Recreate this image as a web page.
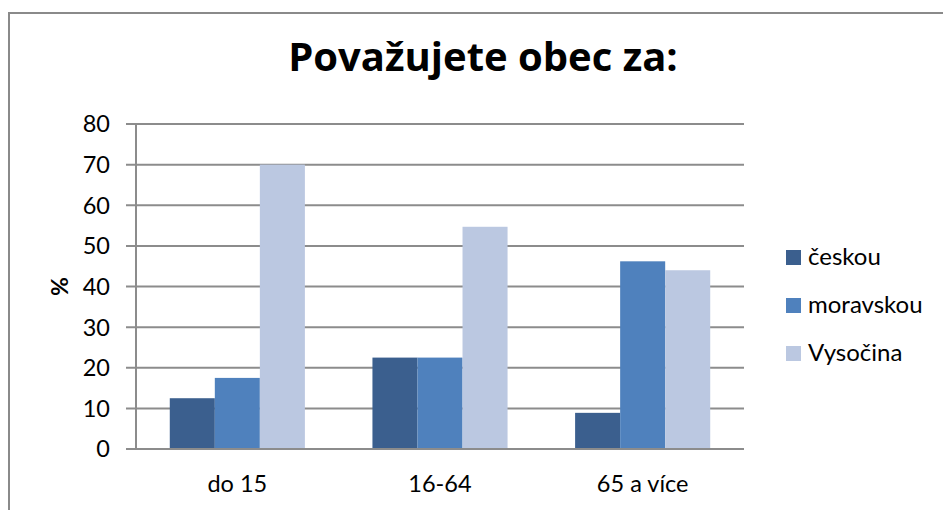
<!DOCTYPE html>
<html lang="cs">
  <head>
    <meta charset="UTF-8" />
    <title>Považujete obec za:</title>
    <script src="https://d3js.org/d3.v7.min.js"></script>
    <style>
      body {
        margin: 0;
        background: #fff;
        font-family: Lato, 'Noto Sans', sans-serif;
      }
      .grid line {
        stroke: #8c8c8c;
        stroke-width: 2px;
      }
    </style>
  </head>
  <body>
    <div id="chart"></div>
    <script>
      // data
      const categories = ['do 15', '16-64', '65 a více'];
      const seriesNames = ['českou', 'moravskou', 'Vysočina'];
      const ceskou = [12.5, 22.5, 8.9];
      const moravskou = [17.5, 22.5, 46.2];
      const vysocina = [70, 54.7, 44];
      const yTicks = [0, 10, 20, 30, 40, 50, 60, 70, 80];
      const colors = ['#3b5f8e', '#4f81bd', '#bbc8e1'];

      const width = 943;
      const height = 510;
      const margin = { top: 124, left: 136, right: 199, bottom: 61 };

      const series = [ceskou, moravskou, vysocina];
      const table = categories.map((c, i) => ({
        category: c,
        values: seriesNames.map((s, j) => ({ name: s, value: series[j][i], idx: j })),
      }));

      const svg = d3
        .select('#chart')
        .append('svg')
        .attr('width', width)
        .attr('height', height);

      // outer frame of the chart (cut off at right/bottom)
      svg
        .append('rect')
        .attr('x', 9)
        .attr('y', 13)
        .attr('width', 960)
        .attr('height', 520)
        .attr('fill', 'none')
        .attr('stroke', '#8a8a8a')
        .attr('stroke-width', 2);

      const x0 = d3
        .scaleBand()
        .domain(categories)
        .range([margin.left, width - margin.right])
        .paddingInner(0);

      // bars: gap width 150% of a bar => 3 bars + 1.5 bar gap per band
      const barW = x0.bandwidth() / 4.5;
      const x1 = d3
        .scaleBand()
        .domain(seriesNames)
        .range([barW * 0.75, barW * 3.75]);

      const y = d3
        .scaleLinear()
        .domain([0, 80])
        .range([height - margin.bottom, margin.top]);

      // grid lines incl. tick marks
      const grid = svg.append('g').attr('class', 'grid');
      grid
        .selectAll('line')
        .data(yTicks)
        .join('line')
        .attr('x1', margin.left - 10)
        .attr('x2', width - margin.right)
        .attr('y1', (d) => y(d))
        .attr('y2', (d) => y(d));

      // vertical axis line
      svg
        .append('line')
        .attr('x1', margin.left)
        .attr('x2', margin.left)
        .attr('y1', y(80))
        .attr('y2', y(0))
        .attr('stroke', '#8c8c8c')
        .attr('stroke-width', 2);

      // y labels
      svg
        .append('g')
        .selectAll('text')
        .data(yTicks)
        .join('text')
        .attr('x', margin.left - 26)
        .attr('y', (d) => y(d))
        .attr('dy', '0.36em')
        .attr('text-anchor', 'end')
        .attr('font-size', 23.5)
        .attr('fill', '#000')
        .text((d) => d);

      svg
        .append('text')
        .attr('transform', `translate(68,${y(40)}) rotate(-90)`)
        .attr('text-anchor', 'middle')
        .attr('font-size', 23)
        .attr('font-weight', 'bold')
        .text('%');

      // bars
      const groups = svg
        .append('g')
        .selectAll('g')
        .data(table)
        .join('g')
        .attr('transform', (d) => `translate(${x0(d.category)},0)`);

      groups
        .selectAll('rect')
        .data((d) => d.values)
        .join('rect')
        .attr('x', (d) => x1(d.name))
        .attr('width', x1.bandwidth())
        .attr('y', (d) => y(d.value))
        .attr('height', (d) => y(0) - y(d.value))
        .attr('fill', (d) => colors[d.idx]);

      // bottom axis line drawn over bars
      svg
        .append('line')
        .attr('x1', margin.left - 10)
        .attr('x2', width - margin.right)
        .attr('y1', y(0))
        .attr('y2', y(0))
        .attr('stroke', '#8c8c8c')
        .attr('stroke-width', 2);

      // category labels
      svg
        .append('g')
        .selectAll('text')
        .data(categories)
        .join('text')
        .attr('x', (d) => x0(d) + x0.bandwidth() / 2)
        .attr('y', 492)
        .attr('text-anchor', 'middle')
        .attr('font-size', 23.5)
        .text((d) => d);

      // title
      svg
        .append('text')
        .attr('x', 483)
        .attr('y', 71)
        .attr('text-anchor', 'middle')
        .attr('font-family', "'Open Sans', Lato, sans-serif")
        .attr('font-size', 40)
        .attr('font-weight', 'bold')
        .text('Považujete obec za:');

      // legend
      const legend = svg
        .append('g')
        .selectAll('g')
        .data(seriesNames)
        .join('g')
        .attr('transform', (d, i) => `translate(786,${250 + i * 48})`);

      legend
        .append('rect')
        .attr('width', 15)
        .attr('height', 15)
        .attr('fill', (d, i) => colors[i]);

      legend
        .append('text')
        .attr('x', 22)
        .attr('y', 15)
        .attr('font-size', 24)
        .text((d) => d);
    </script>
  </body>
</html>
